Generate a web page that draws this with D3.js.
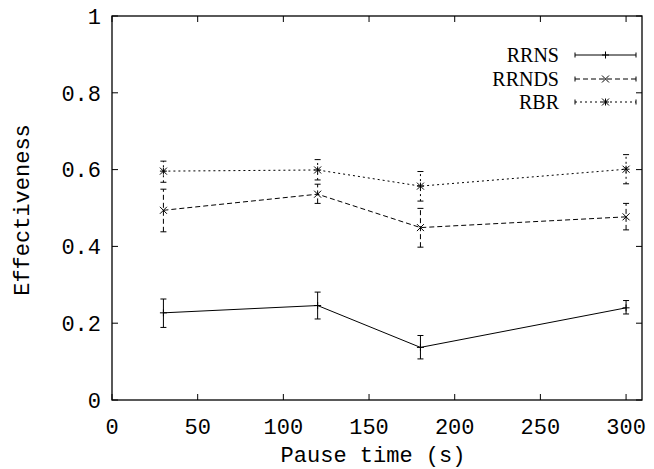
<!DOCTYPE html>
<html lang="en">
<head>
<meta charset="UTF-8">
<title>Effectiveness vs pause time</title>
<style>
    body { margin: 0; background: #fff; }
    .tick-label { font-family: "Liberation Mono", monospace; font-size: 22px; fill: #000; }
    .axis-title { font-family: "Liberation Mono", monospace; font-size: 22px; fill: #000; }
    .key-label { font-family: "Liberation Serif", serif; font-size: 20px; fill: #000; }
    .border { fill: none; stroke: #000; stroke-width: 1.3; }
    .tick { stroke: #000; stroke-width: 1; }
</style>
<script src="https://d3js.org/d3.v7.min.js"></script>
</head>
<body>
<svg width="654" height="469"></svg>
<script>
    // data
    const pauseTimes = [30, 120, 180, 300];

    const rrns   = [0.227, 0.246, 0.137, 0.240];
    const rrnsLo = [0.189, 0.211, 0.107, 0.224];
    const rrnsHi = [0.263, 0.281, 0.168, 0.259];

    const rrnds   = [0.494, 0.536, 0.449, 0.477];
    const rrndsLo = [0.438, 0.512, 0.398, 0.443];
    const rrndsHi = [0.549, 0.562, 0.499, 0.512];

    const rbr   = [0.596, 0.599, 0.557, 0.601];
    const rbrLo = [0.567, 0.573, 0.518, 0.563];
    const rbrHi = [0.622, 0.626, 0.595, 0.639];

    const xTicks = [0, 50, 100, 150, 200, 250, 300];
    const yTicks = [0, 0.2, 0.4, 0.6, 0.8, 1];
    const yTickLabels = ["0", "0.2", "0.4", "0.6", "0.8", "1"];

    const series = [
        { name: "RRNS",  y: rrns,  lo: rrnsLo,  hi: rrnsHi,  dash: null,  marker: "plus" },
        { name: "RRNDS", y: rrnds, lo: rrndsLo, hi: rrndsHi, dash: "5,3", marker: "cross" },
        { name: "RBR",   y: rbr,   lo: rbrLo,   hi: rbrHi,   dash: "2,3", marker: "star" }
    ];

    const plotLeft = 112, plotRight = 642, plotTop = 16, plotBottom = 400;

    const x = d3.scaleLinear().domain([0, 309.3]).range([plotLeft, plotRight]);
    const y = d3.scaleLinear().domain([0, 1]).range([plotBottom, plotTop]);

    const svg = d3.select("svg");

    // ticks (inward, mirrored on all sides)
    const tickLen = 6;
    const ticks = svg.append("g");
    xTicks.forEach(t => {
        ticks.append("line").attr("class", "tick")
            .attr("x1", x(t)).attr("x2", x(t)).attr("y1", plotBottom).attr("y2", plotBottom - tickLen);
        ticks.append("line").attr("class", "tick")
            .attr("x1", x(t)).attr("x2", x(t)).attr("y1", plotTop).attr("y2", plotTop + tickLen);
        ticks.append("text").attr("class", "tick-label")
            .attr("x", x(t)).attr("y", 426).attr("dy", "0.35em")
            .attr("text-anchor", "middle").text(t);
    });
    yTicks.forEach((t, i) => {
        ticks.append("line").attr("class", "tick")
            .attr("x1", plotLeft).attr("x2", plotLeft + tickLen).attr("y1", y(t)).attr("y2", y(t));
        ticks.append("line").attr("class", "tick")
            .attr("x1", plotRight).attr("x2", plotRight - tickLen).attr("y1", y(t)).attr("y2", y(t));
        ticks.append("text").attr("class", "tick-label")
            .attr("x", 101).attr("y", y(t)).attr("dy", "0.35em")
            .attr("text-anchor", "end").text(yTickLabels[i]);
    });

    svg.append("rect").attr("class", "border")
        .attr("x", plotLeft).attr("y", plotTop)
        .attr("width", plotRight - plotLeft).attr("height", plotBottom - plotTop);

    svg.append("text").attr("class", "axis-title")
        .attr("x", (plotLeft + plotRight) / 2 - 4).attr("y", 454).attr("dy", "0.35em")
        .attr("text-anchor", "middle").text("Pause time (s)");

    svg.append("text").attr("class", "axis-title")
        .attr("transform", "translate(21,210) rotate(-90)")
        .attr("dy", "0.35em")
        .attr("text-anchor", "middle").text("Effectiveness");

    function drawMarker(g, type, cx, cy) {
        const s = 3.5;
        const segs = [];
        if (type === "plus" || type === "star") {
            segs.push([cx - s, cy, cx + s, cy], [cx, cy - s, cx, cy + s]);
        }
        if (type === "cross" || type === "star") {
            segs.push([cx - s, cy - s, cx + s, cy + s], [cx - s, cy + s, cx + s, cy - s]);
        }
        segs.forEach(d => g.append("line")
            .attr("x1", d[0]).attr("y1", d[1]).attr("x2", d[2]).attr("y2", d[3])
            .attr("stroke", "#000").attr("stroke-width", 1));
    }

    const line = d3.line().x(d => x(d[0])).y(d => y(d[1]));
    const cap = 3;

    series.forEach(s => {
        const g = svg.append("g");
        const pts = pauseTimes.map((t, i) => [t, s.y[i]]);
        g.append("path").datum(pts)
            .attr("d", line).attr("fill", "none")
            .attr("stroke", "#000").attr("stroke-width", 1)
            .attr("stroke-dasharray", s.dash);
        pauseTimes.forEach((t, i) => {
            const px = x(t);
            g.append("line")
                .attr("x1", px).attr("x2", px).attr("y1", y(s.lo[i])).attr("y2", y(s.hi[i]))
                .attr("stroke", "#000").attr("stroke-width", 1)
                .attr("stroke-dasharray", s.dash);
            [s.lo[i], s.hi[i]].forEach(v => g.append("line")
                .attr("x1", px - cap).attr("x2", px + cap).attr("y1", y(v)).attr("y2", y(v))
                .attr("stroke", "#000").attr("stroke-width", 1));
            drawMarker(g, s.marker, px, y(s.y[i]));
        });
    });

    // key
    const keyY = [55, 79, 102];
    series.forEach((s, i) => {
        const ky = keyY[i];
        const g = svg.append("g");
        g.append("text").attr("class", "key-label")
            .attr("x", 559).attr("y", ky).attr("dy", "0.35em")
            .attr("text-anchor", "end").text(s.name);
        g.append("line").attr("x1", 575).attr("x2", 636).attr("y1", ky).attr("y2", ky)
            .attr("stroke", "#000").attr("stroke-width", 1)
            .attr("stroke-dasharray", s.dash);
        [575, 636].forEach(kx => g.append("line")
            .attr("x1", kx).attr("x2", kx).attr("y1", ky - 2.5).attr("y2", ky + 2.5)
            .attr("stroke", "#000").attr("stroke-width", 1));
        drawMarker(g, s.marker, 605.5, ky);
    });
</script>
</body>
</html>
